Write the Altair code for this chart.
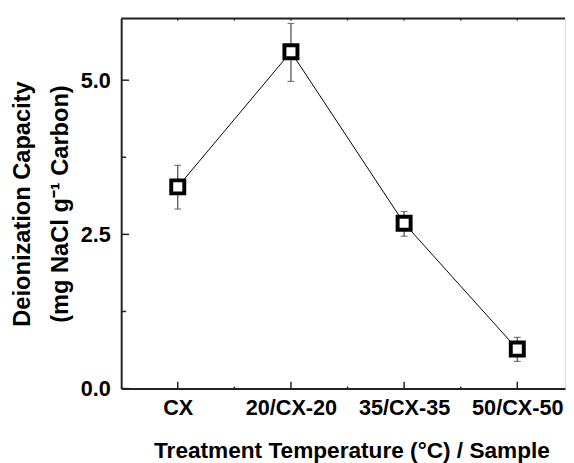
import altair as alt
import pandas as pd

samples = ["CX", "20/CX-20", "35/CX-35", "50/CX-50"]
positions = [1, 2, 3, 4]
capacity = [3.27, 5.46, 2.68, 0.64]
err_high = [3.62, 5.92, 2.87, 0.83]
err_low = [2.91, 4.98, 2.47, 0.44]

y_major = [0.0, 2.5, 5.0]
y_minor = [1.25, 3.75]
x_minor = [1.5, 2.5, 3.5]

W, H = 451, 376
X_DOM = [0.5, 0.5 + W / 115.0]
Y_DOM = [0, 6]
FONT = "Liberation Sans"
AX = "#222222"

df = pd.DataFrame({"pos": positions, "sample": samples, "cap": capacity,
                   "hi": err_high, "lo": err_low})

xs = alt.Scale(domain=X_DOM, nice=False, zero=False)
ys = alt.Scale(domain=Y_DOM, nice=False, zero=True)

label_arr = "[" + ",".join("'" + s + "'" for s in samples) + "]"

x_enc = alt.X("pos:Q", scale=xs, axis=alt.Axis(
    values=positions, labelExpr=label_arr + "[datum.value-1]",
    ticks=False, tickSize=0, grid=False, domainColor=AX, domainWidth=2,
    labelFont=FONT, labelFontSize=22, labelFontWeight="bold", labelColor="black",
    labelPadding=9, labelFlush=False,
    title="Treatment Temperature (°C) / Sample", titleFont=FONT, titleFontSize=23,
    titleFontWeight="bold", titleColor="black", titleX=234, titleY=52,
    titleAlign="center", titleBaseline="top"))

y_enc = alt.Y("cap:Q", scale=ys, axis=alt.Axis(
    values=y_major, format=".1f", ticks=False, tickSize=0, grid=False,
    domainColor=AX, domainWidth=2,
    labelFont=FONT, labelFontSize=22, labelFontWeight="bold", labelColor="black",
    labelPadding=11,
    title=["Deionization Capacity", "(mg NaCl g⁻¹ Carbon)"], titleFont=FONT,
    titleFontSize=24, titleFontWeight="bold", titleColor="black",
    titleLineHeight=38, titleAngle=270, titleX=-112, titleY=188,
    titleAlign="center", titleBaseline="top"))

base = alt.Chart(df)

line = base.mark_line(color="black", strokeWidth=1).encode(x=x_enc, y=y_enc)

err = base.mark_rule(color="#444444", strokeWidth=1.2).encode(
    x=alt.X("pos:Q", scale=xs), y=alt.Y("lo:Q", scale=ys), y2="hi:Q")

cap_hi = base.mark_tick(orient="horizontal", size=7, thickness=1.2, color="#444444").encode(
    x=alt.X("pos:Q", scale=xs), y=alt.Y("hi:Q", scale=ys))
cap_lo = base.mark_tick(orient="horizontal", size=7, thickness=1.2, color="#444444").encode(
    x=alt.X("pos:Q", scale=xs), y=alt.Y("lo:Q", scale=ys))

pts = base.mark_point(shape="square", filled=True, fill="white", stroke="black",
                      strokeWidth=4, size=175, opacity=1).encode(
    x=alt.X("pos:Q", scale=xs), y=alt.Y("cap:Q", scale=ys))

top = alt.Chart(pd.DataFrame({"a": [0]})).mark_rule(color=AX, strokeWidth=2).encode(
    x=alt.value(0), x2=alt.value(W), y=alt.value(0))

ymaj = alt.Chart(pd.DataFrame({"v": y_major})).mark_rule(color=AX, strokeWidth=1.5).encode(
    y=alt.Y("v:Q", scale=ys), x=alt.value(0), x2=alt.value(8))
ymin = alt.Chart(pd.DataFrame({"v": y_minor})).mark_rule(color=AX, strokeWidth=1.5).encode(
    y=alt.Y("v:Q", scale=ys), x=alt.value(0), x2=alt.value(5))
xmaj = alt.Chart(pd.DataFrame({"v": positions})).mark_rule(color=AX, strokeWidth=1.5).encode(
    x=alt.X("v:Q", scale=xs), y=alt.value(H), y2=alt.value(H - 7))
xmin = alt.Chart(pd.DataFrame({"v": x_minor})).mark_rule(color=AX, strokeWidth=1.5).encode(
    x=alt.X("v:Q", scale=xs), y=alt.value(H), y2=alt.value(H - 2))
tmaj = alt.Chart(pd.DataFrame({"v": positions + x_minor})).mark_rule(color=AX, strokeWidth=1.5).encode(
    x=alt.X("v:Q", scale=xs), y=alt.value(0), y2=alt.value(2))

chart = alt.layer(line, err, cap_hi, cap_lo, pts, top, ymaj, ymin, xmaj, xmin, tmaj).properties(
    width=W, height=H,
    padding={"left": 3, "top": 6, "right": 0, "bottom": 0},
).configure_view(stroke=None).configure(background="white")

chart.save("out.html", embed_options={"renderer": "svg", "actions": False})
